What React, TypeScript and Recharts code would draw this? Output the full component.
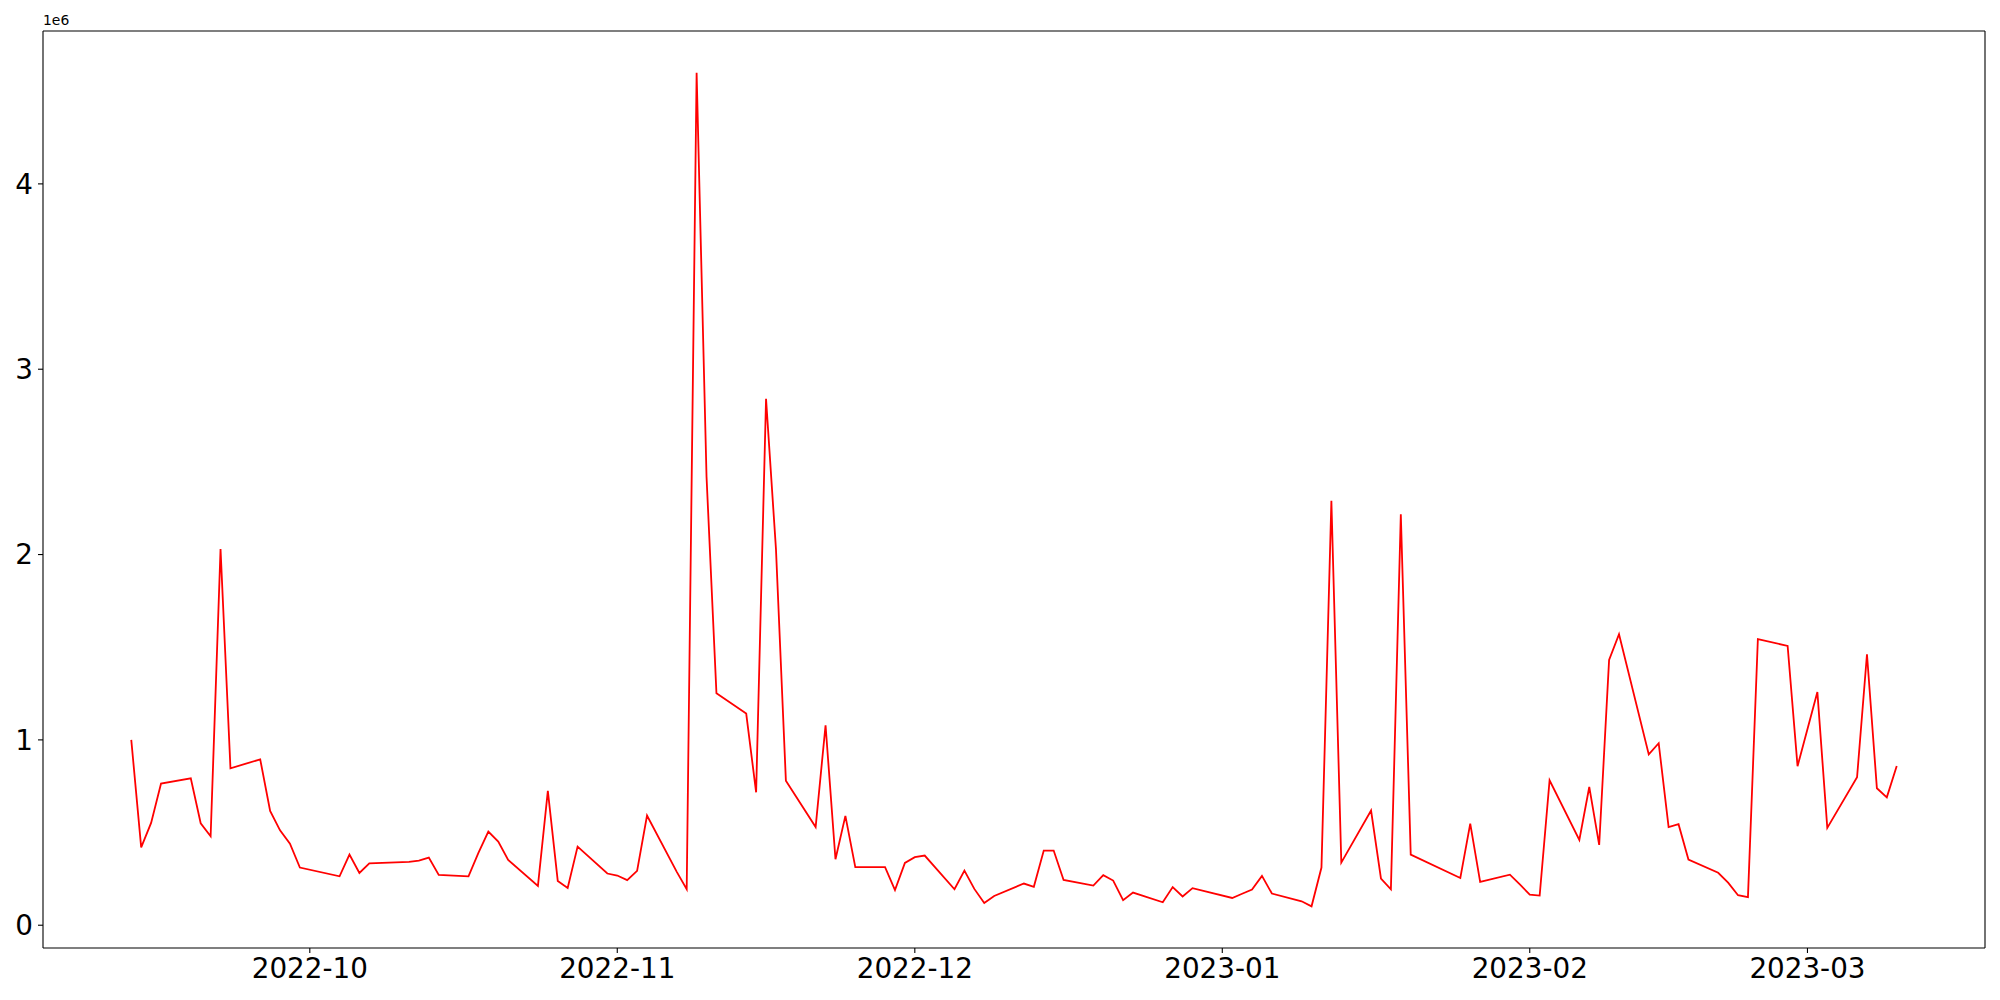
import { Line, LineChart, ReferenceLine, XAxis, YAxis } from "recharts";

// trading days (KRX calendar) and the daily value
const dates = [
  "2022-09-13", "2022-09-14", "2022-09-15", "2022-09-16", "2022-09-19", "2022-09-20", "2022-09-21", "2022-09-22", "2022-09-23",
  "2022-09-26", "2022-09-27", "2022-09-28", "2022-09-29", "2022-09-30",
  "2022-10-04", "2022-10-05", "2022-10-06", "2022-10-07", "2022-10-11", "2022-10-12", "2022-10-13", "2022-10-14",
  "2022-10-17", "2022-10-18", "2022-10-19", "2022-10-20", "2022-10-21", "2022-10-24", "2022-10-25", "2022-10-26", "2022-10-27", "2022-10-28",
  "2022-10-31", "2022-11-01", "2022-11-02", "2022-11-03", "2022-11-04", "2022-11-07", "2022-11-08", "2022-11-09", "2022-11-10", "2022-11-11",
  "2022-11-14", "2022-11-15", "2022-11-16", "2022-11-17", "2022-11-18", "2022-11-21", "2022-11-22", "2022-11-23", "2022-11-24", "2022-11-25",
  "2022-11-28", "2022-11-29", "2022-11-30", "2022-12-01", "2022-12-02", "2022-12-05", "2022-12-06", "2022-12-07", "2022-12-08", "2022-12-09",
  "2022-12-12", "2022-12-13", "2022-12-14", "2022-12-15", "2022-12-16", "2022-12-19", "2022-12-20", "2022-12-21", "2022-12-22", "2022-12-23",
  "2022-12-26", "2022-12-27", "2022-12-28", "2022-12-29",
  "2023-01-02", "2023-01-03", "2023-01-04", "2023-01-05", "2023-01-06", "2023-01-09", "2023-01-10", "2023-01-11", "2023-01-12", "2023-01-13",
  "2023-01-16", "2023-01-17", "2023-01-18", "2023-01-19", "2023-01-20", "2023-01-25", "2023-01-26", "2023-01-27",
  "2023-01-30", "2023-01-31", "2023-02-01", "2023-02-02", "2023-02-03", "2023-02-06", "2023-02-07", "2023-02-08", "2023-02-09", "2023-02-10",
  "2023-02-13", "2023-02-14", "2023-02-15", "2023-02-16", "2023-02-17", "2023-02-20", "2023-02-21", "2023-02-22", "2023-02-23", "2023-02-24",
  "2023-02-27", "2023-02-28", "2023-03-02", "2023-03-03", "2023-03-06", "2023-03-07", "2023-03-08", "2023-03-09", "2023-03-10",
];

const values = [
  1000000, 420000, 552000, 764000, 793000, 550000, 480000, 2030000, 847000,
  895000, 617000, 512000, 440000, 311000,
  264000, 381000, 282000, 334000, 342000, 349000, 365000, 271000,
  264000, 390000, 505000, 451000, 352000, 212000, 725000, 239000, 201000, 424000,
  279000, 268000, 243000, 293000, 592000, 288000, 195000, 4600000, 2420000, 1252000,
  1142000, 717000, 2840000, 2030000, 780000, 530000, 1079000, 356000, 590000, 313000,
  313000, 190000, 336000, 367000, 376000, 194000, 295000, 196000, 120000, 158000,
  225000, 207000, 403000, 403000, 244000, 214000, 270000, 241000, 135000, 176000,
  124000, 206000, 155000, 200000,
  147000, 170000, 192000, 266000, 171000, 129000, 102000, 311000, 2290000, 338000,
  619000, 252000, 194000, 2217000, 381000, 255000, 548000, 234000,
  273000, 220000, 165000, 160000, 782000, 460000, 746000, 433000, 1431000, 1570000,
  922000, 982000, 530000, 545000, 354000, 283000, 230000, 162000, 152000, 1544000,
  1507000, 858000, 1258000, 525000, 798000, 1462000, 739000, 690000, 859000,
];

const monthTicks = ["2022-10-01", "2022-11-01", "2022-12-01", "2023-01-01", "2023-02-01", "2023-03-01"];
const yTicks = [0, 1000000, 2000000, 3000000, 4000000];

const toTime = (s: string) => Date.parse(s + "T00:00:00Z");

const data = dates.map((d, i) => ({ t: toTime(d), v: values[i] }));

// matplotlib-style 5% margins around the data
const tMin = data[0].t;
const tMax = data[data.length - 1].t;
const tPad = (tMax - tMin) * 0.05;
const vMin = Math.min(...values);
const vMax = Math.max(...values);
const vPad = (vMax - vMin) * 0.05;
const xDomain = [tMin - tPad, tMax + tPad];
const yDomain = [vMin - vPad, vMax + vPad];

const FONT = "DejaVu Sans, sans-serif";
const TICK_STYLE = { fill: "#000", fontSize: 27.8, fontFamily: FONT };
const FRAME = { stroke: "#000", strokeWidth: 1.1 };

const fmtMonth = (t: number) => {
  const d = new Date(t);
  return `${d.getUTCFullYear()}-${String(d.getUTCMonth() + 1).padStart(2, "0")}`;
};

export default function App() {
  return (
    <div style={{ position: "absolute", left: 0, top: 0, width: 2000, height: 1000, background: "#fff", fontFamily: FONT }}>
      <div style={{ position: "absolute", left: 43, top: 12, fontSize: 13.9, color: "#000" }}>1e6</div>
      <LineChart width={2000} height={1000} data={data} margin={{ top: 31, right: 15, bottom: 0, left: 0 }}>
        <XAxis
          dataKey="t"
          type="number"
          scale="time"
          domain={xDomain}
          ticks={monthTicks.map(toTime)}
          tickFormatter={fmtMonth}
          height={52}
          tick={TICK_STYLE}
          tickSize={5}
          tickMargin={5}
          axisLine={FRAME}
          tickLine={FRAME}
          allowDataOverflow
        />
        <YAxis
          type="number"
          domain={yDomain}
          ticks={yTicks}
          tickFormatter={(v) => String(v / 1000000)}
          width={43}
          tick={TICK_STYLE}
          tickSize={5}
          tickMargin={5}
          axisLine={FRAME}
          tickLine={FRAME}
          allowDataOverflow
        />
        {/* top and right spines */}
        <ReferenceLine y={yDomain[1]} stroke="#000" strokeWidth={1.1} ifOverflow="extendDomain" />
        <ReferenceLine x={xDomain[1]} stroke="#000" strokeWidth={1.1} ifOverflow="extendDomain" />
        <Line
          type="linear"
          dataKey="v"
          stroke="#ff0000"
          strokeWidth={1.8}
          dot={false}
          activeDot={false}
          isAnimationActive={false}
        />
      </LineChart>
    </div>
  );
}
